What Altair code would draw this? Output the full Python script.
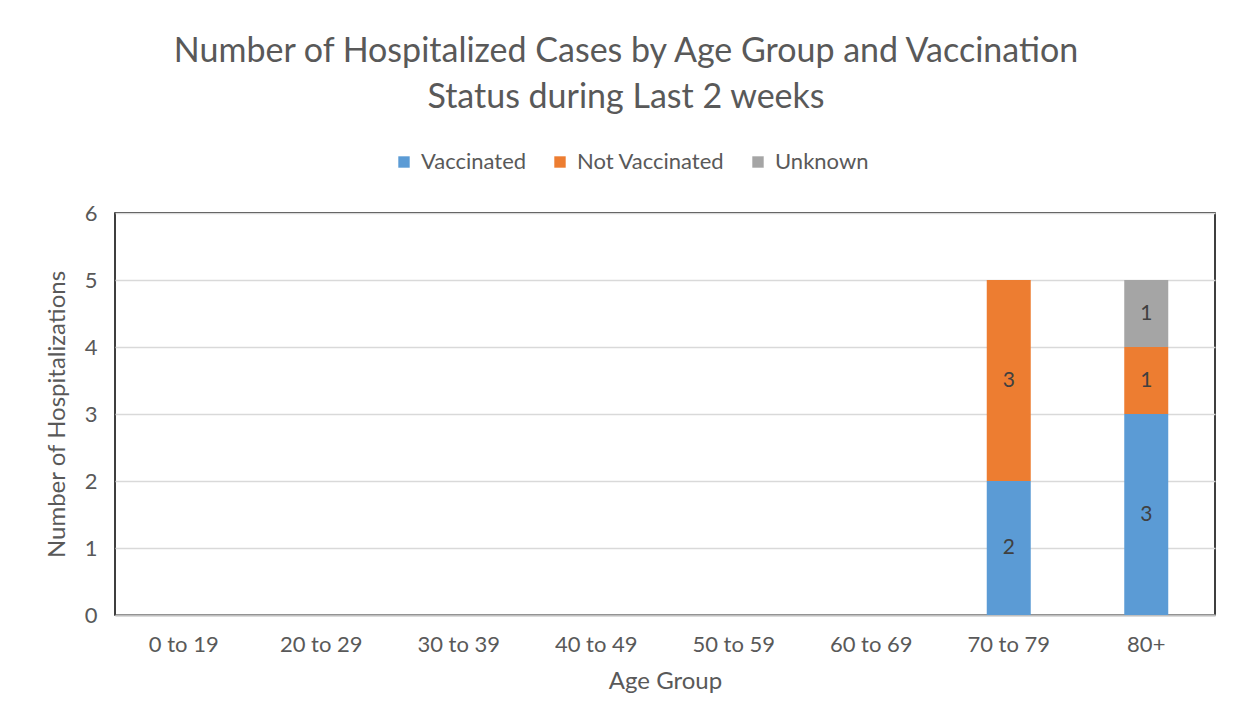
import altair as alt
import pandas as pd

age_groups = ["0 to 19", "20 to 29", "30 to 39", "40 to 49", "50 to 59", "60 to 69", "70 to 79", "80+"]
vaccinated = [0, 0, 0, 0, 0, 0, 2, 3]
not_vaccinated = [0, 0, 0, 0, 0, 0, 3, 1]
unknown = [0, 0, 0, 0, 0, 0, 0, 1]
statuses = ["Vaccinated", "Not Vaccinated", "Unknown"]
colors = ["#5B9BD5", "#ED7D31", "#A5A5A5"]

rows = []
for i, a in enumerate(age_groups):
    for k, (s, vals) in enumerate(zip(statuses, [vaccinated, not_vaccinated, unknown])):
        rows.append({"age": a, "status": s, "count": vals[i], "ord": k})
df = pd.DataFrame(rows)

FONT = "Lato"
GRAY = "#595959"

base = alt.Chart(df).transform_stack(
    stack="count", groupby=["age"], sort=[{"field": "ord", "order": "ascending"}], as_=["y0", "y1"]
).transform_calculate(mid="(datum.y0 + datum.y1) / 2")

x_enc = alt.X(
    "age:N", sort=age_groups, title="Age Group",
    scale=alt.Scale(paddingInner=0.68, paddingOuter=0.34),
    axis=alt.Axis(labelAngle=0, labelFontSize=22, labelColor=GRAY, labelPadding=19,
                  ticks=False, domainColor="#BFBFBF", domainWidth=2,
                  titleFontSize=24, titleColor=GRAY, titleFontWeight="normal", titlePadding=14, grid=False),
)

bars = base.mark_bar(size=44).encode(
    x=x_enc,
    y=alt.Y("y0:Q", title="Number of Hospitalizations",
            scale=alt.Scale(domain=[0, 6]),
            axis=alt.Axis(values=[0, 1, 2, 3, 4, 5, 6], format="d", ticks=False, domain=False,
                          gridColor="#D9D9D9", gridWidth=1.5,
                          labelFontSize=22, labelColor=GRAY, labelPadding=18,
                          titleFontSize=24, titleColor=GRAY, titleFontWeight="normal", titlePadding=15)),
    y2="y1:Q",
    color=alt.Color("status:N", sort=statuses,
                    scale=alt.Scale(domain=statuses, range=colors),
                    legend=alt.Legend(title=None, orient="none", direction="horizontal",
                                      legendX=278, legendY=-62,
                                      symbolType="square", symbolSize=130, symbolStrokeWidth=0,
                                      labelFontSize=22, labelColor=GRAY, labelOffset=6,
                                      columnPadding=22)),
    order=alt.Order("ord:Q"),
)

labels = base.transform_filter("datum.count > 0").mark_text(fontSize=21, color="#404040", font=FONT).encode(
    x=alt.X("age:N", sort=age_groups),
    y=alt.Y("mid:Q"),
    text=alt.Text("count:Q"),
)

chart = alt.layer(bars, labels).properties(
    width=1100, height=402,
    autosize=alt.AutoSizeParams(type="none"),
    padding={"left": 107, "top": 205, "right": 21, "bottom": 104},
    title=alt.TitleParams(
        text=["Number of Hospitalized Cases by Age Group and Vaccination", "Status during Last 2 weeks"],
        fontSize=34, font=FONT, color=GRAY, fontWeight="normal",
        anchor="middle", frame="group", dx=-39, offset=36, lineHeight=46,
    ),
).configure(font=FONT).configure_view(stroke="black", strokeWidth=1.5).configure_axis(
    labelFont=FONT, titleFont=FONT
).configure_legend(labelFont=FONT)

chart.save("out.html", embed_options={"renderer": "svg", "actions": False})
